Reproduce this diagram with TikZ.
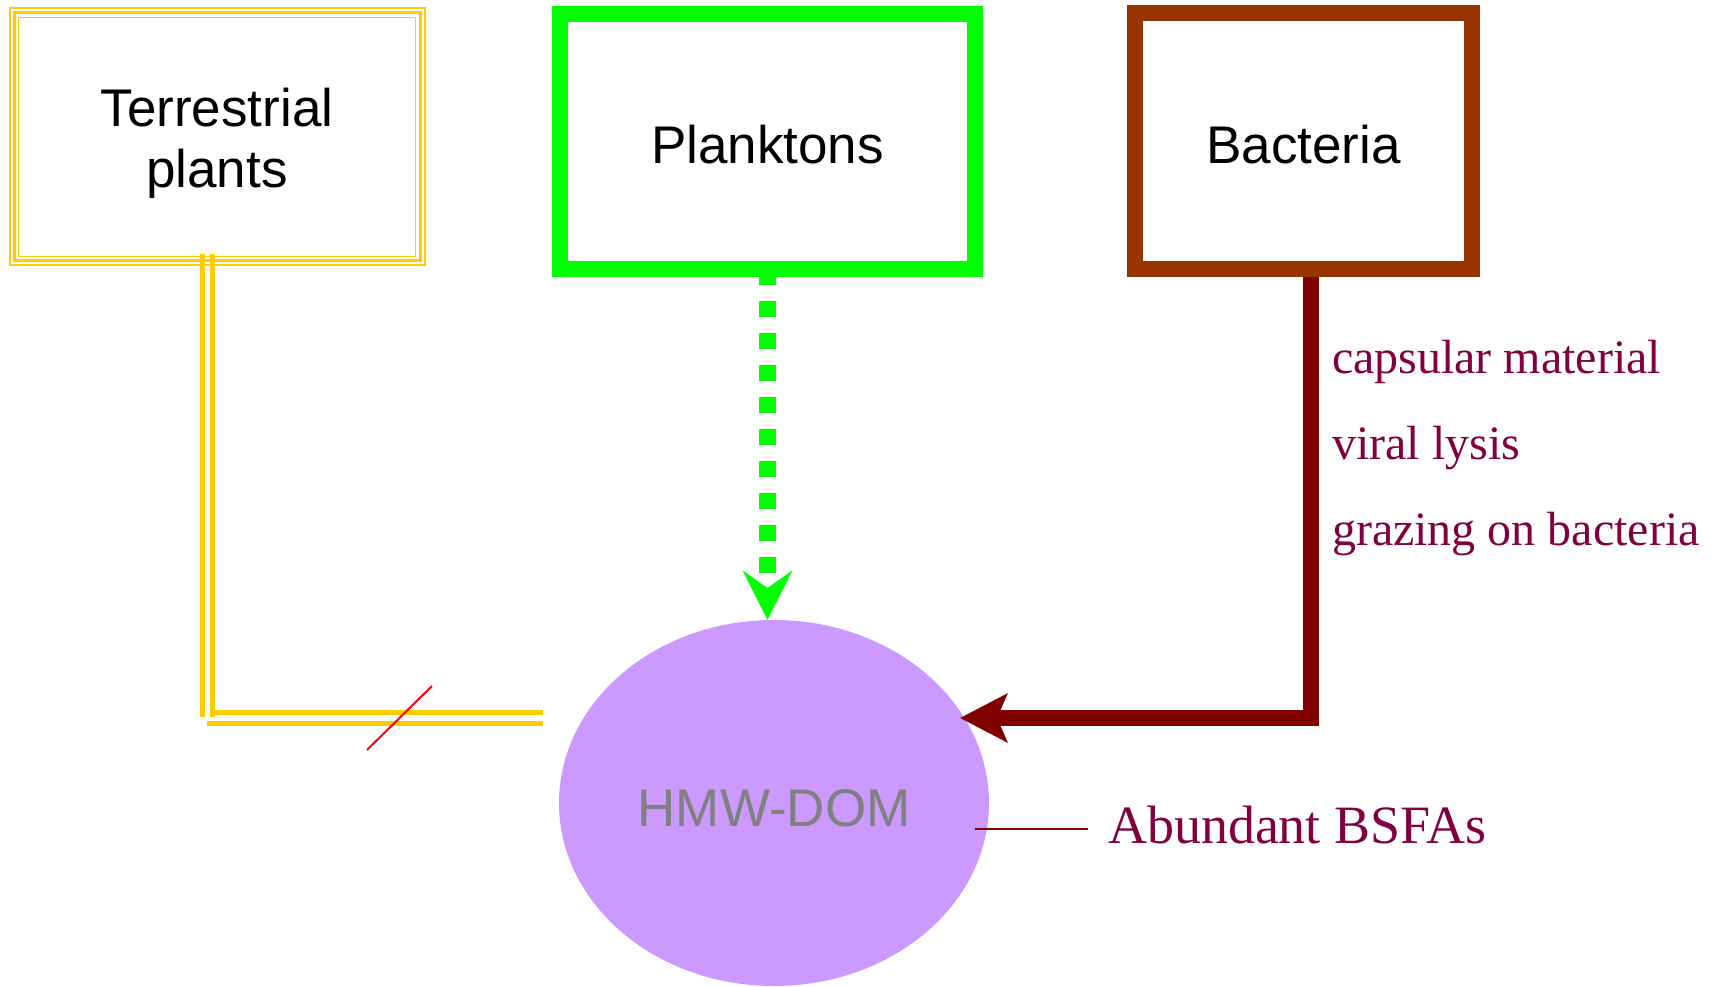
\documentclass[tikz,border=0pt]{standalone}
\usepackage{fontspec}
\setmainfont{Liberation Serif}
\setsansfont{Liberation Sans}
\usetikzlibrary{arrows.meta,shapes.geometric}
\pgfdeclarelayer{bg}
\pgfsetlayers{bg,main}
\definecolor{tyellow}{RGB}{255,204,0}
\definecolor{pgreen}{RGB}{0,255,0}
\definecolor{bbrown}{RGB}{153,51,0}
\definecolor{mroon}{RGB}{128,0,0}
\definecolor{dompurple}{RGB}{204,153,255}
\definecolor{domgray}{RGB}{128,128,128}
\definecolor{lblcol}{RGB}{128,0,64}
\begin{document}
\begin{tikzpicture}[x=1pt,y=1pt,
  every node/.style={inner sep=0pt, outer sep=0pt},
  boxlabel/.style={font=\sffamily\fontsize{53}{61}\selectfont, text=black},
  tbox/.style={boxlabel, draw=tyellow, line width=3pt, minimum width=406pt, minimum height=248pt, align=center, text height=102pt, text depth=0pt},
  pbox/.style={boxlabel, draw=pgreen, line width=16pt, minimum width=415pt, minimum height=255pt, text height=45pt, text depth=0pt},
  bbox/.style={boxlabel, draw=bbrown, line width=16pt, minimum width=337pt, minimum height=256pt, text height=46pt, text depth=0pt},
  domnode/.style={ellipse, fill=dompurple, minimum width=430pt, minimum height=366pt, font=\sffamily\fontsize{53}{61}\selectfont, text=domgray, text height=46pt, text depth=0pt},
  ydouble/.style={draw=tyellow, line width=5pt, double=white, double distance=5.5pt},
  garrow/.style={draw=pgreen, line width=17pt, dash pattern=on 16pt off 16pt, -{Stealth[length=49pt,width=49pt,inset=17pt]}},
  marrow/.style={draw=mroon, line width=16pt, -{Stealth[length=47pt,width=48pt,inset=10pt]}},
  proc/.style={font=\fontsize{48}{58}\selectfont, text=lblcol, anchor=base west},
  abund/.style={font=\fontsize{54}{64}\selectfont, text=lblcol, anchor=base west},
]
\useasboundingbox (0,0) rectangle (1715,986);

% boxes
\node[tbox] (tp) at (217,849) {Terrestrial\\plants};
\draw[tyellow, line width=2pt] ([shift={(-4.5pt,4.5pt)}]tp.north west) rectangle ([shift={(4.5pt,-4.5pt)}]tp.south east);
\draw[tyellow, line width=1.5pt] ([shift={(4.5pt,-4.5pt)}]tp.north west) rectangle ([shift={(-4.5pt,4.5pt)}]tp.south east);
\node[pbox] (pl) at (767.5,844.5) {Planktons};
\node[bbox] (ba) at (1303.5,845) {Bacteria};

% labels
\node[proc] (l1) at (1332,612) {capsular material};
\node[proc] (l2) at (1332,526) {viral lysis};
\node[proc] (l3) at (1332,440) {grazing on bacteria};
\node[abund] (abd) at (1108,143) {Abundant BSFAs};

\coordinate (ycv) at (207.5,269);
\coordinate (ych) at (207,268);
\coordinate (yend) at (543,268);
\coordinate (rs1) at (367,236);
\coordinate (rs2) at (432,300);
\coordinate (ab1) at (975,157);
\coordinate (btip) at (960,268);

\begin{pgfonlayer}{bg}
  \node[domnode] (dom) at (774,183) {HMW-DOM};
  \draw[ydouble] (ych) -- (yend);
  \draw[ydouble] ([xshift=-9.5pt,yshift=7pt]tp.south) -- (ycv);
  \draw[garrow] (pl.south) -- (pl.south |- dom.north);
  \draw[marrow] ([xshift=7.5pt]ba.south) |- (btip);
\end{pgfonlayer}

\draw[red, line width=2pt] (rs1) -- (rs2);
\draw[mroon, line width=2pt, shorten >=20pt] (ab1) -- (ab1 -| abd.base west);
\end{tikzpicture}
\end{document}
